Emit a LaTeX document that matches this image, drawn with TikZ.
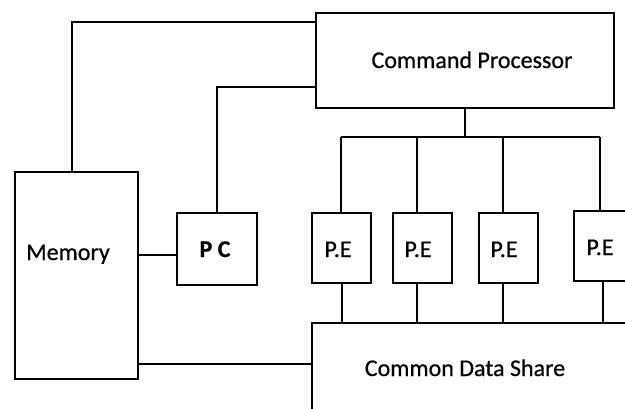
\documentclass[tikz,border=0pt]{standalone}
\usepackage{fontspec}
\setmainfont{Carlito}[FakeBold=0.6]
\begin{document}
\begin{tikzpicture}[x=1pt,y=-1pt,
  box/.style={draw,line width=1.6pt,inner sep=0pt,anchor=north west},
  lbl/.style={inner sep=0pt,anchor=base,font=\fontsize{24}{28}\selectfont},
  wire/.style={line width=1.6pt}]
\useasboundingbox (0,0) rectangle (625,408);
\clip (0,0) rectangle (625,408);
\fill[white] (0,0) rectangle (625,408);
% boxes
\node[box,minimum width=298pt,minimum height=95pt] (cp) at (315,12) {};
\node[box,minimum width=123pt,minimum height=207pt] (mem) at (14,171) {};
\node[box,minimum width=80pt,minimum height=72pt] (pc) at (176,212) {};
\node[box,minimum width=59pt,minimum height=70pt] (pe1) at (311,212) {};
\node[box,minimum width=59pt,minimum height=70pt] (pe2) at (392,212) {};
\node[box,minimum width=59pt,minimum height=70pt] (pe3) at (478,212) {};
\node[box,minimum width=60pt,minimum height=70pt] (pe4) at (573,210) {};
\node[box,minimum width=329pt,minimum height=98pt] (cds) at (311,322) {};
% labels
\node[lbl] (cpl) at (472,68) {Command Processor};
\node[lbl] (meml) at (68,260) {Memory};
\node[lbl,font=\fontsize{24}{28}\selectfont\bfseries] (pcl) at (215,257) {P C};
\node[lbl] (pe1l) at (338,257) {P.E};
\node[lbl] (pe2l) at (418,257) {P.E};
\node[lbl] (pe3l) at (504,257) {P.E};
\node[lbl] (pe4l) at (600,255) {P.E};
\node[lbl] (cdsl) at (465,376) {Common Data Share};
% bus coordinates
\coordinate (b0) at (cp.south |- 0,137);
\coordinate (b1) at (341,137);
\coordinate (b2) at (417,137);
\coordinate (b3) at (503,137);
\coordinate (b4) at (600,137);
% connectors
\draw[wire] (mem.north -| 72,0) |- (cp.west |- 0,22);
\draw[wire] (cp.west |- 0,87) -| (pc.north);
\draw[line width=2.4pt] (mem.east |- 0,255) -- (pc.west |- 0,255);
\draw[wire] (mem.east |- 0,364) -- (cds.west |- 0,364);
\draw[wire] (cp.south) -- (b0);
\draw[wire] (b1) -- (b4);
\draw[wire] (b1) -- (b1 |- pe1.north);
\draw[wire] (b2) -- (b2 |- pe2.north);
\draw[wire] (b3) -- (b3 |- pe3.north);
\draw[wire] (b4) -- (b4 |- pe4.north);
\draw[wire] (pe1.south -| 342,0) -- (cds.north -| 342,0);
\draw[wire] (pe2.south -| b2) -- (cds.north -| b2);
\draw[wire] (pe3.south -| b3) -- (cds.north -| b3);
\draw[wire] (pe4.south -| 603,0) -- (cds.north -| 603,0);
\end{tikzpicture}
\end{document}
